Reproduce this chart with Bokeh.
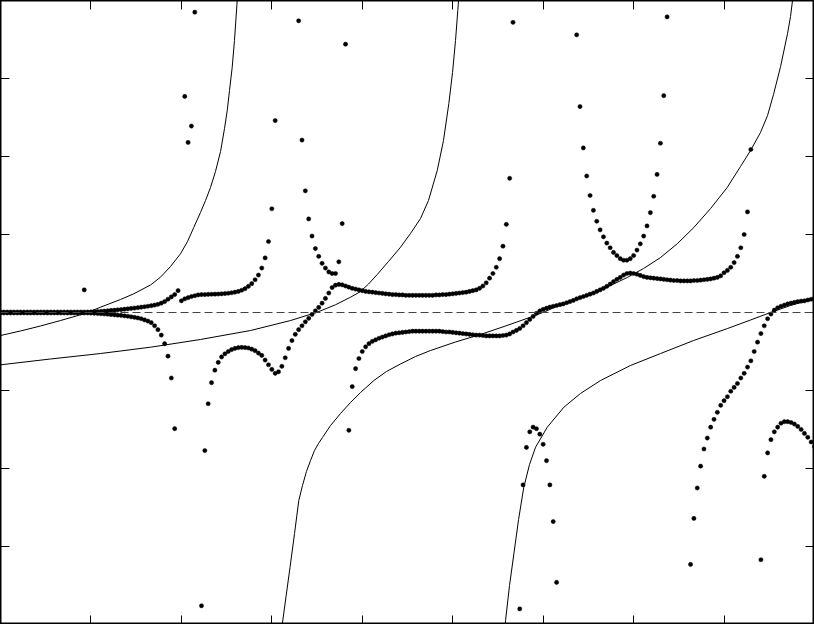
from bokeh.plotting import figure
from bokeh.models import LinearAxis, FixedTicker, Span, ColumnDataSource
from bokeh.embed import file_html
from bokeh.resources import INLINE

# ---------------- axes / grid ----------------
X_MIN, X_MAX = 0.0, 9.0
Y_MIN, Y_MAX = -4.0, 4.0
x_ticks = [1, 2, 3, 4, 5, 6, 7, 8]
y_ticks = [-3, -2, -1, 0, 1, 2, 3]

# parameter sweep: 244 evenly spaced samples across the x range
N_SAMPLES = 244
sample_x = [X_MIN + k * (X_MAX - X_MIN) / (N_SAMPLES - 1) for k in range(N_SAMPLES)]

# ---------------- point branches (start sample index, y values) ----------------
u1_start = 0
u1_y = [0.006, 0.006, 0.006, 0.006, 0.006, 0.006, 0.006, 0.006, 0.006, 0.006,
        0.006, 0.006, 0.006, 0.006, 0.006, 0.006, 0.006, 0.006, 0.006, 0.006,
        0.006, 0.006, 0.006, 0.006, 0.006, 0.006, 0.006, 0.008, 0.01, 0.012,
        0.015, 0.018, 0.022, 0.026, 0.03, 0.034, 0.038, 0.042, 0.047, 0.052,
        0.057, 0.062, 0.068, 0.074, 0.08, 0.087, 0.095, 0.105, 0.12, 0.14,
        0.17, 0.20, 0.23, 0.28]

d1_start = 0
d1_y = [-0.006, -0.006, -0.006, -0.006, -0.006, -0.006, -0.006, -0.006, -0.006, -0.006,
        -0.006, -0.006, -0.006, -0.006, -0.006, -0.006, -0.006, -0.006, -0.006, -0.006,
        -0.006, -0.006, -0.006, -0.006, -0.006, -0.006, -0.006, -0.008, -0.01, -0.013,
        -0.016, -0.019, -0.022, -0.026, -0.03, -0.034, -0.038, -0.043, -0.048, -0.055,
        -0.062, -0.07, -0.08, -0.095, -0.11, -0.13, -0.17, -0.22, -0.29, -0.40,
        -0.56, -0.84, -1.49]

iso_idx = [25, 55, 56, 57, 58]
iso_y = [0.29, 2.77, 2.18, 2.39, 3.85]

u2_start = 54
u2_y = [0.15, 0.175, 0.19, 0.205, 0.215, 0.225, 0.23, 0.23, 0.232, 0.234,
        0.235, 0.237, 0.24, 0.243, 0.247, 0.253, 0.26, 0.27, 0.285, 0.305,
        0.335, 0.37, 0.42, 0.48, 0.57, 0.70, 0.91, 1.33, 2.46]

d2_start = 60
d2_y = [-3.76, -1.77, -1.17, -0.90, -0.74, -0.64, -0.57, -0.53, -0.50, -0.475,
        -0.46, -0.45, -0.447, -0.45, -0.455, -0.47, -0.49, -0.52, -0.55, -0.61,
        -0.67, -0.73, -0.78, -0.76, -0.69, -0.58, -0.46, -0.36, -0.28, -0.22,
        -0.17, -0.12, -0.075, -0.025, 0.02, 0.065, 0.12, 0.18, 0.25, 0.32,
        0.35, 0.36, 0.355, 0.34, 0.325, 0.31, 0.30, 0.29, 0.28, 0.27,
        0.265, 0.26, 0.255, 0.25, 0.245, 0.24, 0.235, 0.23, 0.23, 0.225,
        0.225, 0.22, 0.22, 0.22, 0.22, 0.22, 0.22, 0.22, 0.22, 0.22,
        0.225, 0.225, 0.23, 0.23, 0.235, 0.24, 0.245, 0.25, 0.255, 0.26,
        0.27, 0.28, 0.29, 0.31, 0.34, 0.38, 0.44, 0.50, 0.58, 0.69,
        0.85, 1.13, 1.72, 3.72]

u3_start = 89
u3_y = [3.74, 2.21, 1.56, 1.20, 0.98, 0.82, 0.72, 0.63, 0.57, 0.52,
        0.50, 0.50, 0.65, 1.14, 3.44]

l2_start = 104
l2_y = [-1.51, -0.95, -0.72, -0.59, -0.50, -0.44, -0.40, -0.37, -0.35, -0.33,
        -0.315, -0.30, -0.285, -0.275, -0.265, -0.26, -0.255, -0.25, -0.245, -0.24,
        -0.24, -0.24, -0.24, -0.24, -0.24, -0.24, -0.24, -0.24, -0.245, -0.25,
        -0.25, -0.255, -0.26, -0.265, -0.27, -0.275, -0.28, -0.285, -0.29, -0.29,
        -0.295, -0.30, -0.30, -0.30, -0.30, -0.30, -0.295, -0.29, -0.275, -0.25,
        -0.23, -0.205, -0.17, -0.13, -0.09, -0.05, -0.01, 0.02, 0.04, 0.055,
        0.07, 0.08, 0.09, 0.10, 0.11, 0.125, 0.14, 0.155, 0.175, 0.19,
        0.205, 0.22, 0.235, 0.25, 0.27, 0.29, 0.31, 0.335, 0.365, 0.395,
        0.425, 0.45, 0.48, 0.50, 0.505, 0.50, 0.49, 0.475, 0.46, 0.45,
        0.445, 0.44, 0.435, 0.43, 0.425, 0.42, 0.415, 0.41, 0.41, 0.405,
        0.405, 0.405, 0.405, 0.41, 0.41, 0.415, 0.42, 0.425, 0.43, 0.44,
        0.45, 0.47, 0.51, 0.54, 0.58, 0.64, 0.72, 0.83, 1.0, 1.29,
        2.09]

h1_start = 155
h1_y = [-3.8, -2.21, -1.73, -1.53, -1.47, -1.49, -1.56, -1.69, -1.90, -2.21,
        -2.68, -3.46]

p_start = 172
p_y = [3.56, 2.64, 2.11, 1.75, 1.50, 1.31, 1.17, 1.06, 0.97, 0.89,
       0.83, 0.77, 0.73, 0.69, 0.67, 0.67, 0.69, 0.73, 0.80, 0.88,
       0.98, 1.11, 1.28, 1.49, 1.77, 2.17, 2.78, 3.79]

r_start = 206
r_y = [-3.23, -2.64, -2.25, -1.97, -1.75, -1.61, -1.47, -1.37, -1.28, -1.19,
       -1.13, -1.08, -1.01, -0.96, -0.91, -0.84, -0.78, -0.70, -0.62, -0.50,
       -0.38, -0.27, -0.17, -0.08, -0.02, 0.03, 0.06, 0.08, 0.095, 0.11,
       0.12, 0.13, 0.14, 0.145, 0.15, 0.16, 0.17, 0.18]

h2_start = 227
h2_y = [-3.17, -2.1, -1.8, -1.63, -1.53, -1.47, -1.42, -1.40, -1.40, -1.41,
        -1.43, -1.46, -1.50, -1.55, -1.60, -1.66, -1.72]

# ---------------- solid curves ----------------
c1_x = [0.0, 0.221, 0.442, 0.663, 0.921, 1.106, 1.327, 1.474, 1.659, 1.769, 1.880, 1.990,
        2.068, 2.137, 2.211, 2.267, 2.322, 2.377, 2.433, 2.477, 2.507, 2.532, 2.562, 2.587,
        2.617, 2.637]
c1_y = [-0.295, -0.237, -0.173, -0.103, -0.017, 0.068, 0.167, 0.240, 0.353, 0.453, 0.590, 0.753,
        0.910, 1.090, 1.282, 1.436, 1.603, 1.808, 2.064, 2.359, 2.590, 2.846, 3.145, 3.487,
        4.0, 4.385]

c2_x = [0.0, 0.553, 1.106, 1.659, 2.211, 2.764, 3.207, 3.502, 3.704, 3.870, 3.981, 4.069,
        4.165, 4.290, 4.423, 4.533, 4.644, 4.732, 4.829, 4.898, 4.957, 4.998, 5.031, 5.056,
        5.067, 5.086]
c2_y = [-0.671, -0.596, -0.526, -0.445, -0.346, -0.231, -0.103, 0.004, 0.099, 0.196, 0.269, 0.365,
        0.487, 0.654, 0.837, 1.013, 1.205, 1.436, 1.821, 2.205, 2.679, 3.077, 3.487, 3.872,
        4.038, 4.385]

c3_x = [3.107, 3.115, 3.157, 3.201, 3.251, 3.298, 3.339, 3.383, 3.428, 3.472, 3.516, 3.560,
        3.649, 3.759, 3.870, 3.981, 4.128, 4.268, 4.423, 4.589, 4.755, 5.031, 5.307, 5.584,
        5.860, 6.026, 6.192, 6.369, 6.560, 6.745, 6.930, 7.110, 7.298, 7.486, 7.666, 7.851,
        8.035, 8.182, 8.293, 8.403, 8.481, 8.547, 8.625, 8.702, 8.735, 8.757, 8.774]
c3_y = [-4.077, -4.0, -3.641, -3.269, -2.833, -2.41, -2.218, -2.038, -1.897, -1.769, -1.679, -1.603,
        -1.449, -1.295, -1.154, -1.026, -0.872, -0.756, -0.660, -0.564, -0.487, -0.378, -0.282, -0.173,
        -0.060, 0.013, 0.103, 0.173, 0.256, 0.346, 0.449, 0.564, 0.705, 0.885, 1.09, 1.333,
        1.603, 1.872, 2.077, 2.308, 2.526, 2.795, 3.154, 3.577, 3.795, 4.0, 4.256]

c4_x = [5.573, 5.584, 5.628, 5.676, 5.728, 5.786, 5.849, 5.916, 6.045, 6.229, 6.413, 6.634,
        6.966, 7.298, 7.663, 8.039, 8.293, 8.514, 8.735, 8.993, 9.023]
c4_y = [-4.077, -3.949, -3.5, -3.094, -2.654, -2.240, -1.949, -1.727, -1.471, -1.214, -1.038, -0.872,
        -0.679, -0.526, -0.359, -0.205, -0.096, 0.0, 0.090, 0.176, 0.186]

# ---------------- figure ----------------
p = figure(width=814, height=624, x_range=(X_MIN, X_MAX), y_range=(Y_MIN, Y_MAX),
           output_backend="svg", toolbar_location=None, min_border=0,
           x_axis_type=None, y_axis_type=None)
p.outline_line_color = "black"
p.outline_line_width = 2
p.background_fill_color = "white"
p.border_fill_color = "white"

for side, loc, ticks in [("left", X_MIN, y_ticks), ("right", X_MAX, y_ticks),
                         ("below", Y_MIN, x_ticks), ("above", Y_MAX, x_ticks)]:
    ax = LinearAxis(ticker=FixedTicker(ticks=ticks), fixed_location=loc,
                    major_tick_in=9, major_tick_out=0,
                    minor_tick_in=0, minor_tick_out=0,
                    major_tick_line_color="black", major_tick_line_width=1,
                    axis_line_color=None, major_label_text_color=None)
    p.add_layout(ax, side)

p.add_layout(Span(location=0, dimension="width", line_color="#444444",
                  line_width=1, line_dash="8 4"))

for cx, cy in [(c1_x, c1_y), (c2_x, c2_y), (c3_x, c3_y), (c4_x, c4_y)]:
    p.line(cx, cy, line_color="black", line_width=1)

pts_x, pts_y = [], []
for start, ys in [(u1_start, u1_y), (d1_start, d1_y), (u2_start, u2_y), (d2_start, d2_y),
                  (u3_start, u3_y), (l2_start, l2_y), (h1_start, h1_y), (p_start, p_y),
                  (r_start, r_y), (h2_start, h2_y)]:
    for k, yv in enumerate(ys):
        pts_x.append(sample_x[start + k])
        pts_y.append(yv)
for k, yv in zip(iso_idx, iso_y):
    pts_x.append(sample_x[k])
    pts_y.append(yv)

src = ColumnDataSource(data=dict(x=pts_x, y=pts_y))
p.scatter("x", "y", source=src, size=4.2, fill_color="black", line_color="black", line_width=0.5)

html = file_html(p, INLINE, title="chart")
html = html.replace("<head>", "<head>\n<style>html, body {margin:0; padding:0; overflow:hidden;}</style>", 1)
open("out.html", "w").write(html)
